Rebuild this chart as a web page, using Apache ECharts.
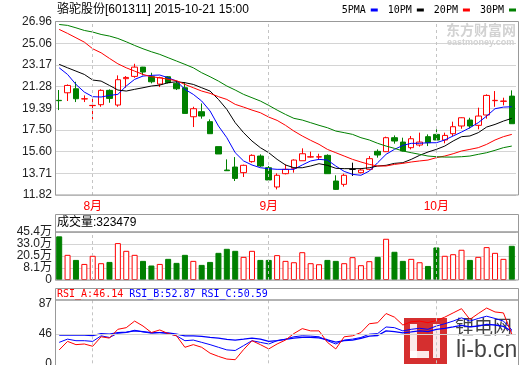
<!DOCTYPE html>
<html><head><meta charset="utf-8">
<script src="https://cdn.jsdelivr.net/npm/echarts@6.0.0/dist/echarts.min.js"></script>
<style>html,body{margin:0;padding:0;background:#fff}#c{width:520px;height:365px}</style>
</head><body><div id="c"></div>
<script>
const stockTitle = '骆驼股份[601311] 2015-10-21 15:00';
const dates = ['2015-07-28','2015-07-29','2015-07-30','2015-07-31',
'2015-08-03','2015-08-04','2015-08-05','2015-08-06','2015-08-07','2015-08-10','2015-08-11','2015-08-12','2015-08-13','2015-08-14',
'2015-08-17','2015-08-18','2015-08-19','2015-08-20','2015-08-21','2015-08-24','2015-08-25','2015-08-26','2015-08-27','2015-08-28','2015-08-31',
'2015-09-01','2015-09-02','2015-09-07','2015-09-08','2015-09-09','2015-09-10','2015-09-11','2015-09-14','2015-09-15','2015-09-16','2015-09-17','2015-09-18',
'2015-09-21','2015-09-22','2015-09-23','2015-09-24','2015-09-25','2015-09-28','2015-09-29','2015-09-30',
'2015-10-08','2015-10-09','2015-10-12','2015-10-13','2015-10-14','2015-10-15','2015-10-16','2015-10-19','2015-10-20','2015-10-21'];
// [open, close, low, high]
const candles = [
[20.08,20.05,19.23,20.98],[20.74,21.38,20.02,21.47],[21.09,20.22,19.93,21.70],[20.20,20.22,19.93,20.51],[19.62,19.64,18.42,20.22],
[19.70,20.95,19.52,21.04],[20.95,20.25,19.87,21.04],[19.67,21.88,19.52,22.26],[21.97,22.08,21.18,22.20],[22.17,22.98,22.05,23.27],
[22.98,22.55,22.26,23.00],[22.14,21.70,21.56,22.49],[21.50,22.05,21.24,22.14],[22.14,21.62,21.56,22.20],[21.56,21.09,20.98,21.76],
[21.18,18.94,18.94,21.67],[18.65,19.35,17.75,19.52],[19.09,18.71,18.48,19.81],[18.22,17.17,17.17,18.42],[16.04,15.40,15.40,16.04],
[14.00,13.94,13.94,14.93],[14.26,13.27,13.04,15.13],[13.77,14.41,13.39,14.47],[14.73,15.28,14.64,15.37],[15.22,14.35,14.26,15.37],
[14.20,13.13,13.04,14.35],[12.52,13.54,12.31,13.71],[13.68,14.06,13.62,14.49],[14.15,14.87,13.77,14.93],[14.81,15.42,14.81,15.89],
[15.13,15.16,15.08,15.60],[15.13,15.16,14.93,15.42],[15.28,13.68,13.68,15.37],[13.04,12.31,12.26,13.54],[12.75,13.54,12.55,13.68],
[14.06,14.06,13.48,14.64],[13.77,14.00,13.71,14.15],[14.06,14.99,14.00,15.22],[15.63,15.31,15.08,15.80],[15.60,16.82,15.57,16.91],
[16.82,16.53,16.30,17.02],[16.44,15.66,15.63,16.82],[15.95,16.73,15.80,16.97],[16.18,16.44,16.04,17.26],[16.91,16.38,16.09,17.11],
[17.11,16.62,16.53,17.55],[16.62,17.02,16.33,17.26],[17.17,17.78,16.97,18.22],[17.84,18.56,17.60,18.59],[18.36,17.84,17.63,18.56],
[17.90,18.71,17.55,19.44],[18.80,20.51,18.48,20.60],[20.05,20.08,19.52,20.89],[19.99,20.02,19.64,20.31],[20.45,18.04,18.04,20.95]];
const ma5 = [22.92,22.34,21.47,20.80,20.40,20.37,20.51,20.60,21.33,21.91,22.20,22.26,22.29,22.05,21.76,21.04,20.60,20.02,19.15,17.84,
16.82,15.51,14.79,14.44,14.20,14.12,14.06,14.06,14.06,14.44,14.79,14.93,14.87,14.35,13.88,13.62,13.54,13.91,14.64,15.37,
15.80,16.15,16.33,16.33,16.38,16.38,16.62,16.97,17.31,17.69,18.13,18.71,19.35,19.49,19.52];
const ma10 = [23.22,22.92,22.63,22.34,21.85,21.76,21.38,20.98,20.89,21.04,21.18,21.33,21.41,21.62,21.70,21.62,21.47,21.18,20.89,20.16,
19.29,18.13,17.26,16.53,15.95,15.51,14.93,14.44,14.20,14.20,14.35,14.55,14.41,14.15,14.12,14.12,14.12,14.20,14.35,14.41,
14.58,14.64,14.93,15.28,15.57,15.80,16.09,16.53,16.91,16.97,17.26,17.75,17.98,18.27,18.51];
const ma20 = [26.27,25.92,25.54,25.16,24.58,24.23,23.74,23.27,22.92,22.63,22.34,22.14,22.05,21.91,21.80,21.47,21.18,20.89,20.69,20.40,
20.16,19.73,19.49,19.23,19.00,18.62,18.33,17.90,17.40,16.97,16.59,16.24,15.80,15.51,15.22,14.93,14.70,14.49,14.35,14.35,
14.49,14.58,14.70,14.79,14.87,15.08,15.22,15.42,15.66,15.80,15.95,16.24,16.62,16.91,17.11];
const ma30 = [26.70,26.62,26.41,26.18,26.04,25.83,25.69,25.48,25.19,24.87,24.58,24.32,24.09,23.80,23.51,23.22,22.92,22.49,22.14,21.76,
21.33,20.98,20.60,20.31,20.02,19.64,19.23,18.85,18.51,18.36,18.13,17.90,17.69,17.40,17.26,17.11,16.82,16.62,16.33,16.09,
15.89,15.66,15.51,15.37,15.22,15.16,15.13,15.13,15.16,15.22,15.37,15.51,15.72,15.95,16.09];
const volumes = [413000,238000,190000,152000,229000,159000,171000,349000,276000,238000,181000,137000,152000,200000,162000,
238000,181000,143000,171000,257000,295000,276000,219000,276000,190000,190000,235000,181000,168000,263000,
159000,149000,190000,181000,159000,216000,140000,178000,219000,390000,267000,181000,200000,168000,133000,
308000,229000,244000,286000,190000,219000,311000,257000,200000,323479];
const rsiA = [21.2,34.6,29.5,30.5,26.9,41.9,39.8,53.7,56.3,66.7,58.9,48.6,52.7,47.0,43.4,25.3,29.5,25.3,16.0,10.9,
6.7,5.7,21.7,35.7,29.5,22.7,30.5,36.7,47.0,54.8,51.2,51.2,33.1,22.7,41.9,43.4,48.6,62.5,64.1,78.6,
72.9,60.5,65.6,66.7,64.1,67.7,72.9,79.6,86.3,69.3,78.6,87.3,81.1,79.6,46.14];
const rsiB = [33.1,38.2,35.7,35.7,34.6,43.4,40.8,47.5,48.6,52.2,49.6,47.5,48.6,47.0,43.4,35.7,36.7,33.1,29.5,25.3,
21.2,20.2,27.9,35.7,33.1,30.5,35.7,38.2,41.9,43.4,42.9,41.9,35.7,30.5,36.7,38.2,40.8,46.0,47.0,57.4,
56.3,51.2,53.7,55.3,53.7,58.9,62.5,66.7,71.8,66.7,70.8,74.4,70.8,66.7,52.87];
const rsiC = [44.4,44.4,44.4,44.4,43.9,47.0,46.0,48.6,49.1,51.2,50.1,48.6,48.6,48.1,46.0,43.4,43.4,42.4,40.8,39.8,
37.7,36.7,38.2,39.8,38.2,34.6,35.7,37.7,39.8,40.8,40.8,40.3,37.2,33.6,35.7,36.7,39.3,42.9,43.9,51.2,
50.1,48.1,49.6,51.2,50.1,53.7,55.3,57.4,59.9,57.4,58.9,61.5,60.5,58.4,50.59];
const priceTickLabels = ['11.82','13.71','15.60','17.50','19.39','21.28','23.17','25.06','26.96'];
const priceMin = 11.82, priceMax = 26.96;
const volTickLabels = ['0','8.1万','20.5万','33.0万','45.4万'];
const volMax = 454000;
const rsiTickValues = [0, 46, 87];
const rsiMid = 46;
const monthStarts = ['2015-08-03','2015-09-01','2015-10-08'];
const monthLabels = ['8月','9月','10月'];
const maNames = ['5PMA','10PM','20PM','30PM'];

const SANS = '"Liberation Sans", "Noto Sans CJK SC", sans-serif';
const MONO = '"DejaVu Sans Mono", "Noto Sans CJK SC", monospace';
const UP = '#ff0000', DOWN = '#008000', GRIDC = '#d4d4d4', BORDER = '#999';
const priceStep = (priceMax - priceMin) / (priceTickLabels.length - 1);
const volStep = volMax / (volTickLabels.length - 1);
const last = dates.length - 1;
const rsiTop = Math.max(...rsiTickValues);

const chart = echarts.init(document.getElementById('c'), null, {renderer: 'canvas'});
const monthMark = {
  silent: true, symbol: ['none', 'none'], label: {show: false},
  lineStyle: {type: [3, 3], color: '#c4c4c4', width: 1},
  emphasis: {disabled: true},
  data: monthStarts.map(d => ({xAxis: d}))
};
const gridL = 55, gridR = 4;
const hiddenX = (i) => ({
  type: 'category', gridIndex: i, data: dates, boundaryGap: true,
  axisLine: {show: false}, axisTick: {show: false}, axisLabel: {show: false}, splitLine: {show: false}
});
const volData = volumes.map((v, i) => {
  const up = candles[i][1] >= candles[i][0];
  return {value: v, itemStyle: up ? {color: '#fff', borderColor: UP, borderWidth: 1} : {color: DOWN, borderColor: DOWN, borderWidth: 1}};
});
const maColors = ['#0000ff', '#000000', '#ff0000', '#008000'];
const maData = [ma5, ma10, ma20, ma30];
const rect = (x, y, w, h) => ({type: 'rect', silent: true, shape: {x, y, width: w, height: h}, style: {fill: 'none', stroke: BORDER, lineWidth: 1}, z: 100});

chart.setOption({
  animation: false,
  backgroundColor: '#fff',
  legend: {
    data: maNames, right: 4, top: 5, padding: 0, align: 'right', icon: 'rect',
    itemWidth: 7, itemHeight: 3, itemGap: 10, selectedMode: false,
    textStyle: {fontFamily: MONO, fontSize: 10, color: '#000'}
  },
  grid: [
    {left: gridL, right: gridR, top: 21.5, height: 173.5, outerBoundsMode: 'none'},
    {left: gridL, right: gridR, top: 232, height: 48, outerBoundsMode: 'none'},
    {left: gridL, right: gridR, top: 300, height: 63.3, outerBoundsMode: 'none'}
  ],
  xAxis: [
    {type: 'category', gridIndex: 0, data: dates, boundaryGap: true,
     axisLine: {show: false}, axisTick: {show: false}, splitLine: {show: false},
     axisLabel: {interval: (idx, val) => monthStarts.includes(val),
       formatter: (val) => monthLabels[monthStarts.indexOf(val)] || '',
       color: '#ff0000', fontSize: 12, fontFamily: SANS, margin: 6}},
    hiddenX(1), hiddenX(2)
  ],
  yAxis: [
    {type: 'value', gridIndex: 0, min: priceMin, max: priceMax, interval: priceStep,
     axisLine: {show: false}, axisTick: {show: false},
     splitLine: {lineStyle: {color: GRIDC, width: 1}},
     axisLabel: {formatter: v => priceTickLabels[Math.round((v - priceMin) / priceStep)] || '', margin: 3,
       color: '#222', fontSize: 12, fontFamily: SANS}},
    {type: 'value', gridIndex: 1, min: 0, max: volMax, interval: volStep,
     axisLine: {show: false}, axisTick: {show: false},
     splitLine: {lineStyle: {color: GRIDC, width: 1}},
     axisLabel: {formatter: v => volTickLabels[Math.round(v / volStep)] || '', margin: 3,
       color: '#222', fontSize: 12, fontFamily: SANS}},
    {type: 'value', gridIndex: 2, min: 0, max: 100,
     axisLine: {show: false}, axisTick: {show: false}, splitLine: {show: false},
     axisLabel: {customValues: rsiTickValues, formatter: v => v === rsiTop ? '{t|' + v + '}' : String(v), margin: 3,
       color: '#222', fontSize: 12, fontFamily: SANS,
       rich: {t: {color: '#222', fontSize: 12, fontFamily: SANS, padding: [0, 0, 10, 0]}}}}
  ],
  series: [
    {type: 'candlestick', xAxisIndex: 0, yAxisIndex: 0, data: candles, barWidth: 6,
     itemStyle: {color: '#fff', color0: DOWN, borderColor: UP, borderColor0: DOWN, borderColorDoji: '#000', borderWidth: 1},
     markLine: monthMark, silent: true},
    ...maData.map((d, i) => ({
      name: maNames[i], type: 'line', xAxisIndex: 0, yAxisIndex: 0, data: d,
      symbol: 'none', showSymbol: false, color: maColors[i],
      lineStyle: {color: maColors[i], width: 1}, silent: true
    })),
    {type: 'bar', xAxisIndex: 1, yAxisIndex: 1, data: volData, barWidth: 6, silent: true, markLine: monthMark},
    {type: 'line', xAxisIndex: 2, yAxisIndex: 2, data: rsiC, symbol: 'none', lineStyle: {color: '#0000ff', width: 1.3}, silent: true,
     markLine: {silent: true, symbol: ['none', 'none'], label: {show: false}, lineStyle: {type: 'solid', color: GRIDC, width: 1},
       data: [{yAxis: rsiMid}]}},
    {type: 'line', xAxisIndex: 2, yAxisIndex: 2, data: rsiB, symbol: 'none', lineStyle: {color: '#0000ff', width: 1}, silent: true,
     markLine: monthMark},
    {type: 'line', xAxisIndex: 2, yAxisIndex: 2, data: rsiA, symbol: 'none', lineStyle: {color: '#ff0000', width: 1}, silent: true}
  ],
  graphic: [
    {type: 'text', silent: true, z: 100, style: {x: 57, y: 10, text: stockTitle, fontFamily: SANS, fontSize: 12, fill: '#000', verticalAlign: 'middle'}},
    rect(55.5, 21.5, 463, 173.5),
    rect(55.5, 214.5, 463, 17.5),
    rect(55.5, 232, 463, 48),
    rect(55.5, 288.5, 463, 11.5),
    rect(55.5, 300, 463, 70),
    {type: 'text', silent: true, z: 100, style: {x: 57, y: 223, text: '成交量:' + volumes[last], fontFamily: SANS, fontSize: 12, fill: '#000', verticalAlign: 'middle'}},
    {type: 'text', silent: true, z: 100, style: {x: 57, y: 294.5,
      text: `{a|RSI_A:${rsiA[last].toFixed(2)}} {b|RSI_B:${rsiB[last].toFixed(2)}} {c|RSI_C:${rsiC[last].toFixed(2)}}`,
      fontFamily: MONO, fontSize: 10, verticalAlign: 'middle',
      rich: {a: {fill: '#ff0000', fontFamily: MONO, fontSize: 10}, b: {fill: '#0000ff', fontFamily: MONO, fontSize: 10}, c: {fill: '#0000ff', fontFamily: MONO, fontSize: 10}}}},
    {type: 'text', silent: true, z: 90, style: {x: 446, y: 23, text: '东方财富网', fontFamily: '"Noto Sans CJK SC"', fontSize: 14, fontWeight: 'bold', fill: '#d2d2d2'}},
    {type: 'text', silent: true, z: 90, style: {x: 447, y: 38, text: 'eastmoney.com', fontFamily: SANS, fontSize: 9, fontWeight: 'bold', fill: '#d2d2d2'}},
    {type: 'group', silent: true, z: 110, children: [
      {type: 'rect', shape: {x: 404, y: 318, width: 43, height: 46}, style: {fill: '#d01818', opacity: 0.9}},
      {type: 'rect', shape: {x: 410, y: 324, width: 7, height: 34}, style: {fill: '#fff', opacity: 0.9}},
      {type: 'rect', shape: {x: 410, y: 351, width: 19, height: 7}, style: {fill: '#fff', opacity: 0.9}},
      {type: 'rect', shape: {x: 433, y: 324, width: 7, height: 34}, style: {fill: '#fff', opacity: 0.9}},
      {type: 'text', style: {x: 455, y: 317, text: '锂电网', fontFamily: '"Noto Sans CJK SC"', fontSize: 19, fill: '#222', opacity: 0.85}},
      {type: 'text', style: {x: 456, y: 339, text: 'li-b.cn', fontFamily: SANS, fontSize: 23, fill: '#222', opacity: 0.85}}
    ]}
  ]
});
</script>
</body></html>
